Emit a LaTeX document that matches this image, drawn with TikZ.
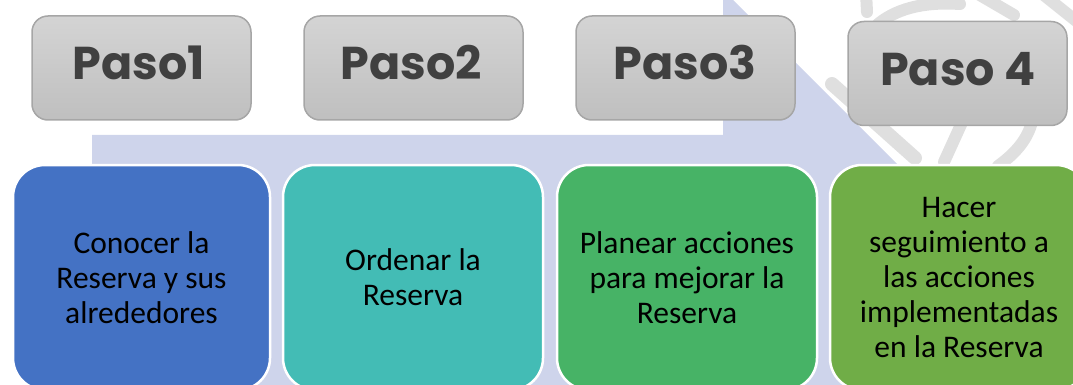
\documentclass[tikz,border=0pt]{standalone}
\usepackage{fontspec}
\newfontfamily\pasofont{Poppins}
\newfontfamily\bodyfont{Carlito}
\definecolor{lav}{HTML}{CED4EB}
\definecolor{wm}{HTML}{DFDFDF}
\definecolor{pasotop}{HTML}{D4D4D4}
\definecolor{pasobot}{HTML}{BFBFBF}
\definecolor{pasoline}{HTML}{A6A6A6}
\definecolor{pasotext}{HTML}{404040}
\definecolor{c1}{HTML}{4472C4}
\definecolor{c2}{HTML}{43BCB5}
\definecolor{c3}{HTML}{47B366}
\definecolor{c4}{HTML}{70AD47}
\tikzset{
  pasobox/.style={rounded corners=16pt, draw=pasoline, line width=1.5pt,
    top color=pasotop, bottom color=pasobot, minimum width=219pt,
    minimum height=104pt, inner sep=0pt},
  pasolabel/.style={anchor=base, text=pasotext, inner sep=0pt,
    font=\pasofont\bfseries\fontsize{46}{50}\selectfont},
  stepbox/.style={rounded corners=32pt, draw=white, line width=2.5pt,
    minimum height=225pt, inner sep=0pt, text=black, align=center,
    font=\bodyfont\fontsize{31.5}{35}\selectfont},
  wmline/.style={draw=wm, line width=14pt, line cap=round}
}
\begin{document}
\begin{tikzpicture}[x=1pt,y=-1pt]
\useasboundingbox (0,0) rectangle (1073,385);
\clip (0,0) rectangle (1073,385);
% background arrow
\fill[lav] (92,135) -- (723,135) -- (723,-5) -- (728,-5) -- (1123,390) -- (92,390) -- cycle;
% watermark strokes
\draw[wmline,line width=12pt] (866,-8) -- (867,12);
\draw[wmline] (832,84) -- (915,158);
\draw[wmline,line width=12pt] (878,24) .. controls (900,6) and (930,2) .. (960,4);
\draw[wmline,line width=12pt] (978,-6) -- (1014,15);
\draw[wmline,line width=12pt] (1040,-8) -- (1080,24);
\draw[wmline,line width=12pt] (1034,105) .. controls (1034,132) and (1020,150) .. (998,166);
\draw[wmline,line width=12pt] (964,118) -- (944,162);
% top step boxes
\node[pasobox] (p1) at (141.5,68) {};
\node[pasobox] (p2) at (413.5,68) {};
\node[pasobox] (p3) at (685.5,68) {};
\node[pasobox] (p4) at (957.5,73.5) {};
\node[pasolabel] (p1t) at (139,80) {Paso1};
\node[pasolabel] (p2t) at (411,80) {Paso2};
\node[pasolabel] (p3t) at (685,80) {Paso3};
\node[pasolabel] (p4t) at (958,86) {Paso 4};
% bottom boxes
\node[stepbox, fill=c1, minimum width=257pt] (b1) at (141.5,277.5) {Conocer la\\Reserva y sus\\alrededores};
\node[stepbox, fill=c2, minimum width=260pt] (b2) at (413,277.5) {Ordenar la\\Reserva};
\node[stepbox, fill=c3, minimum width=260pt] (b3) at (687,277.5) {Planear acciones\\para mejorar la\\Reserva};
\node[stepbox, fill=c4, minimum width=258pt] (b4) at (959,277.5) {Hacer\\seguimiento a\\las acciones\\implementadas\\en la Reserva};
\end{tikzpicture}
\end{document}
